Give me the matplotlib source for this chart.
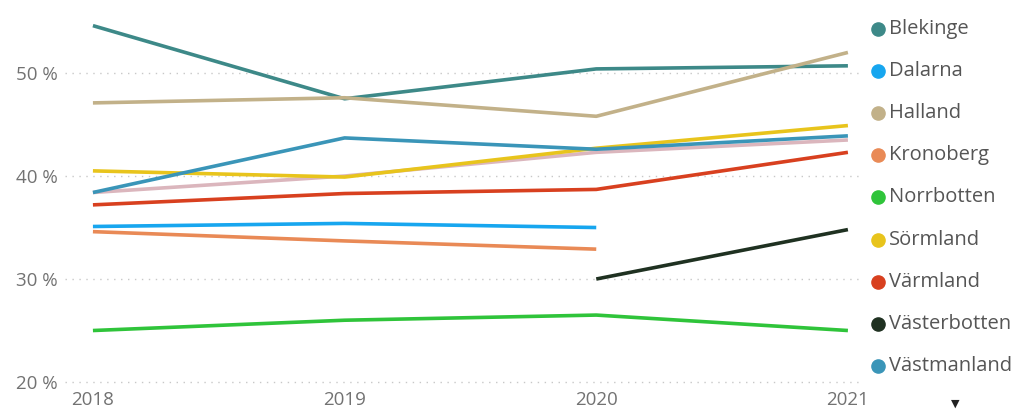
import matplotlib.pyplot as plt
import numpy as np

plt.rcParams['font.family'] = ['Open Sans', 'DejaVu Sans']

years = [2018, 2019, 2020, 2021]

# andel i procent per län (nan = saknas)
blekinge = [54.6, 47.5, 50.4, 50.7]
dalarna = [35.1, 35.4, 35.0, np.nan]
halland = [47.1, 47.6, 45.8, 52.0]
kronoberg = [34.6, 33.7, 32.9, np.nan]
norrbotten = [25.0, 26.0, 26.5, 25.0]
sormland = [40.5, 39.9, 42.7, 44.9]
varmland = [37.2, 38.3, 38.7, 42.3]
vasterbotten = [np.nan, np.nan, 30.0, 34.8]
vastmanland = [38.4, 43.7, 42.6, 43.9]
dold_serie = [38.4, 40.0, 42.3, 43.5]   # syns inte i legenden (utanför rullningen)

names = ['Blekinge', 'Dalarna', 'Halland', 'Kronoberg', 'Norrbotten',
         'Sörmland', 'Värmland', 'Västerbotten', 'Västmanland']
series = [blekinge, dalarna, halland, kronoberg, norrbotten,
          sormland, varmland, vasterbotten, vastmanland]
colors = ['#3d8988', '#17a6ef', '#c2b189', '#e98a56', '#2fc43a',
          '#e8c41c', '#d8401f', '#1f3121', '#3a95b8']
hidden_color = '#dbb6bd'

yticks = [20, 30, 40, 50]

fig = plt.figure(figsize=(10.2, 4.12), dpi=100)
ax = fig.add_axes([65/1020, 17/412, 797/1020, 395/412])

ax.plot(years, dold_serie, color=hidden_color, lw=2.6, solid_capstyle='butt')
for vals, c in zip(series, colors):
    ax.plot(years, vals, color=c, lw=2.6, solid_capstyle='butt')

ax.set_xlim(2017.889, 2021.056)
ax.set_ylim(18.74, 57.09)
ax.set_xticks(years)
ax.set_xticklabels([str(y) for y in years])
ax.set_yticks(yticks)
ax.set_yticklabels([f'{t} %' for t in yticks])
ax.tick_params(length=0, colors='#727272', labelsize=13.5)
ax.tick_params(axis='x', pad=-3)
ax.tick_params(axis='y', pad=5)
ax.grid(axis='y', color='#c8c8c8', lw=1, linestyle=(0, (1, 4)))
for s in ax.spines.values():
    s.set_visible(False)

# legend on the right
lg = fig.add_axes([860/1020, 0, 160/1020, 1])
lg.set_xlim(0, 160)
lg.set_ylim(412, 0)
lg.axis('off')
for i, (n, c) in enumerate(zip(names, colors)):
    yy = 29 + i * 42.1
    lg.plot(18, yy, 'o', ms=9.5, color=c)
    lg.text(29, yy, n, va='center', ha='left', fontsize=14.5, color='#555555')
lg.text(95, 404, '▼', ha='center', va='center', fontsize=8, color='#222222',
        family='DejaVu Sans')

fig.savefig('out.png', dpi=100)
